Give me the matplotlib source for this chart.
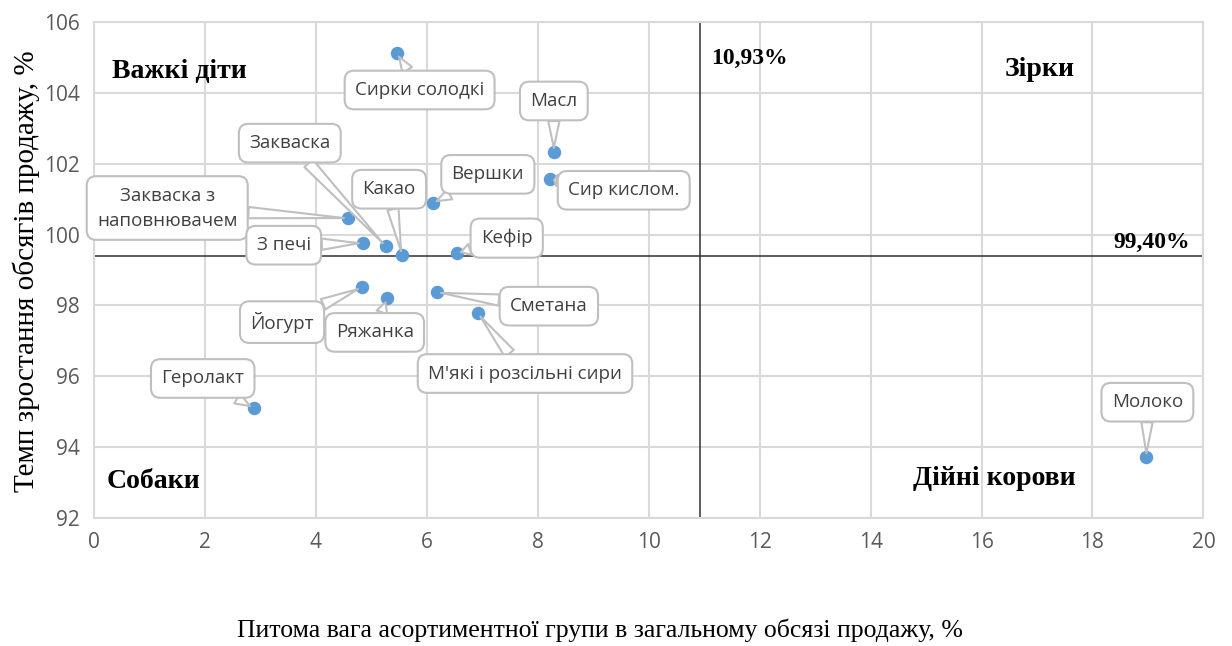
import matplotlib
matplotlib.use("Agg")
import matplotlib.pyplot as plt
from matplotlib import font_manager

# Asortment groups: share of sales (%), sales growth rate (%)
names = ["Сирки солодкі", "Масл", "Сир кислом.", "Вершки", "Кефір", "Какао",
         "Закваска", "Закваска з\nнаповнювачем", "З печі", "Йогурт", "Ряжанка",
         "Сметана", "М'які і розсільні сири", "Геролакт", "Молоко"]
share = [5.46, 8.29, 8.22, 6.11, 6.54, 5.55, 5.26, 4.58, 4.85, 4.83, 5.28,
         6.18, 6.92, 2.88, 18.97]
growth = [105.12, 102.33, 101.56, 100.89, 99.47, 99.42, 99.67, 100.46, 99.76,
          98.51, 98.20, 98.37, 97.78, 95.10, 93.71]

# where each callout box sits
label_pos = [(5.87, 104.08), (8.29, 103.77), (9.55, 101.25), (7.10, 101.70),
             (7.44, 99.90), (5.32, 101.28), (3.53, 102.58), (1.32, 100.75),
             (3.42, 99.70), (3.39, 97.53), (5.06, 97.24), (8.20, 97.98),
             (7.77, 96.08), (1.96, 95.94), (18.99, 95.27)]

# quadrant boundaries
share_mid = 10.93
growth_mid = 99.40

available = {f.name for f in font_manager.fontManager.ttflist}
sans = "Liberation Sans Narrow" if "Liberation Sans Narrow" in available else "Open Sans"
serif = "Liberation Serif"

fig = plt.figure(figsize=(12.32, 6.46), dpi=100)
ax = fig.add_axes([0.0763, 0.198, 0.9005, 0.768])

ax.set_xlim(0, 20)
ax.set_ylim(92, 106)
ax.set_xticks(range(0, 21, 2))
ax.set_yticks(range(92, 107, 2))
ax.grid(True, color="#d9d9d9", lw=1.5)
ax.set_axisbelow(True)
for s in ax.spines.values():
    s.set_color("#d9d9d9")
    s.set_linewidth(1.5)
ax.tick_params(length=0, pad=10, labelcolor="#595959", labelsize=15)
for lab in ax.get_xticklabels() + ax.get_yticklabels():
    lab.set_fontfamily(sans)

ax.axvline(share_mid, color="#303030", lw=1.1, zorder=2)
ax.axhline(growth_mid, color="#303030", lw=1.1, zorder=2)

ax.scatter(share, growth, s=75, color="#5b9bd5", zorder=4)

for name, x, y, (lx, ly) in zip(names, share, growth, label_pos):
    ax.annotate(name, xy=(x, y), xytext=(lx, ly), ha="center", va="center",
                fontsize=13.5, family=sans, color="#404040", zorder=5,
                linespacing=1.5,
                bbox=dict(boxstyle="round,pad=0.55,rounding_size=0.5",
                          fc="white", ec="#bfbfbf", lw=1.5),
                arrowprops=dict(arrowstyle="wedge,tail_width=0.6,shrink_factor=0.5",
                                fc="white", ec="#bfbfbf", lw=1.5,
                                shrinkA=0, shrinkB=3))

qfont = dict(family=serif, fontweight="bold", fontsize=20, color="black")
ax.text(0.32, 104.6, "Важкі діти", ha="left", va="center", **qfont)
ax.text(17.04, 104.65, "Зірки", ha="center", va="center", **qfont)
ax.text(0.23, 93.03, "Собаки", ha="left", va="center", **qfont)
ax.text(16.23, 93.12, "Дійні корови", ha="center", va="center", **qfont)
ax.text(share_mid + 0.2, 104.98, "10,93%", ha="left", va="center",
        family=serif, fontweight="bold", fontsize=17)
ax.text(19.75, growth_mid + 0.08, "99,40%", ha="right", va="bottom",
        family=serif, fontweight="bold", fontsize=17)

fig.text(0.487, 0.025, "Питома вага асортиментної групи в загальному обсязі продажу, %",
         ha="center", va="center", family=serif, fontsize=18.5)
fig.text(0.021, 0.58, "Темп зростання обсягів продажу, %", rotation=90,
         ha="center", va="center", family=serif, fontsize=21)

fig.savefig("out.png", dpi=100)
